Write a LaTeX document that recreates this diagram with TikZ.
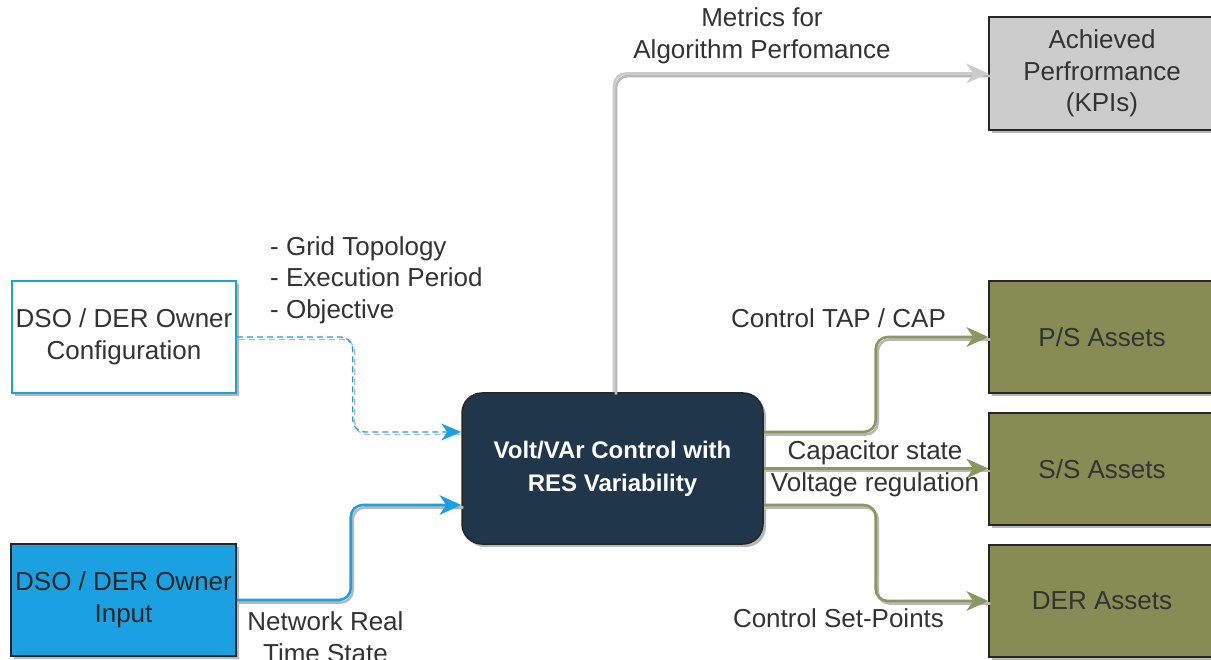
\documentclass[tikz,border=0pt]{standalone}
\usepackage{fontspec}
\setmainfont{Liberation Sans}
\usetikzlibrary{arrows.meta,shadows,calc}
\definecolor{dioblue}{HTML}{1BA1E2}
\definecolor{navy}{HTML}{20364A}
\definecolor{olivefill}{HTML}{868C53}
\definecolor{oliveline}{HTML}{8A9860}
\definecolor{kpigray}{HTML}{CCCCCC}
\definecolor{txt}{HTML}{333333}
\definecolor{shd}{HTML}{B8B8B8}
\begin{document}
\begin{tikzpicture}[x=1pt,y=-1pt,
  font=\fontsize{26}{31.5}\selectfont,
  every node/.style={text=txt},
  boxstyle/.style={rectangle, draw=black!85, line width=1.5pt, inner sep=0pt, align=center,
    drop shadow={shadow xshift=3pt, shadow yshift=-3pt, fill=shd, opacity=1}},
  conn/.style={line width=2.6pt, rounded corners=12pt},
  connshadow/.style={line width=2.6pt, rounded corners=12pt, draw=shd, transform canvas={shift={(2pt,-2.5pt)}}},
  tip/.style={-{Stealth[length=22pt,width=20pt,inset=7pt,line width=0pt,sharp]}},
  thintip/.style={-{Stealth[length=20pt,width=17pt,inset=6pt,line width=0pt,sharp]}},
  lbl/.style={inner sep=0pt, align=center}
]
\useasboundingbox (0,0) rectangle (1211,660);
\fill[white] (0,0) rectangle (1211,660);

% boxes
\node[boxstyle, draw=dioblue, fill=white, minimum width=224pt, minimum height=112pt] (cfg) at (124,337) {DSO / DER Owner\\Configuration};
\node[boxstyle, fill=dioblue, text=black!85, minimum width=225pt, minimum height=112pt] (inp) at (123.5,600) {DSO / DER Owner\\Input};
\node[boxstyle, fill=navy, rounded corners=20pt, minimum width=301pt, minimum height=151pt,
  text=white, font=\fontsize{24}{33}\selectfont\bfseries] (vvc) at (612.5,468.5) {Volt/VAr Control with\\RES Variability};
\node[boxstyle, fill=kpigray, minimum width=226pt, minimum height=113pt] (kpi) at (1102,73.5) {Achieved\\Perfrormance\\(KPIs)};
\node[boxstyle, fill=olivefill, minimum width=226pt, minimum height=112pt] (ps) at (1102,337) {P/S Assets};
\node[boxstyle, fill=olivefill, minimum width=226pt, minimum height=112pt] (ss) at (1102,469) {S/S Assets};
\node[boxstyle, fill=olivefill, minimum width=226pt, minimum height=112pt] (der) at (1102,601) {DER Assets};

% connector shadows
\draw[connshadow, dash pattern=on 6pt off 4pt, line width=1.3pt] (cfg.east) -- ++(116,0) |- ([yshift=36.5pt]vvc.west);
\draw[connshadow] (inp.east) -- ++(114,0) |- ([yshift=-36.5pt]vvc.west);
\draw[connshadow] ([xshift=1.5pt]vvc.north) |- (kpi.west);
\draw[connshadow] ([yshift=36.5pt]vvc.east) -- ++(112,0) |- (ps.west);
\draw[connshadow] (vvc.east) -- (vvc.east -| ss.west);
\draw[connshadow] ([yshift=-36.5pt]vvc.east) -- ++(112,0) |- (der.west);

% connectors
\draw[conn, thintip, draw=dioblue, line width=1.3pt, dash pattern=on 6pt off 4pt] (cfg.east) -- ++(116,0) |- ([yshift=36.5pt]vvc.west);
\draw[conn, tip, draw=dioblue] (inp.east) -- ++(114,0) |- ([yshift=-36.5pt]vvc.west);
\draw[conn, tip, draw=kpigray] ([xshift=1.5pt]vvc.north) |- (kpi.west);
\draw[conn, tip, draw=oliveline] ([yshift=36.5pt]vvc.east) -- ++(112,0) |- (ps.west);
\draw[conn, tip, draw=oliveline] (vvc.east) -- (vvc.east -| ss.west);
\draw[conn, tip, draw=oliveline] ([yshift=-36.5pt]vvc.east) -- ++(112,0) |- (der.west);

% labels
\node[lbl] (lmet) at (762,36) {Metrics for\\Algorithm Perfomance};
\node[lbl, align=left, anchor=west] (lcfg) at (270,280) {- Grid Topology\\- Execution Period\\- Objective};
\node[lbl] (ltap) at (838.5,318) {Control TAP / CAP};
\node[lbl] (lcap) at (875,469) {Capacitor state\\Voltage regulation};
\node[lbl] (lset) at (838.5,618) {Control Set-Points};
\node[lbl] (lnet) at (325.5,637) {Network Real\\Time State};
\end{tikzpicture}
\end{document}
